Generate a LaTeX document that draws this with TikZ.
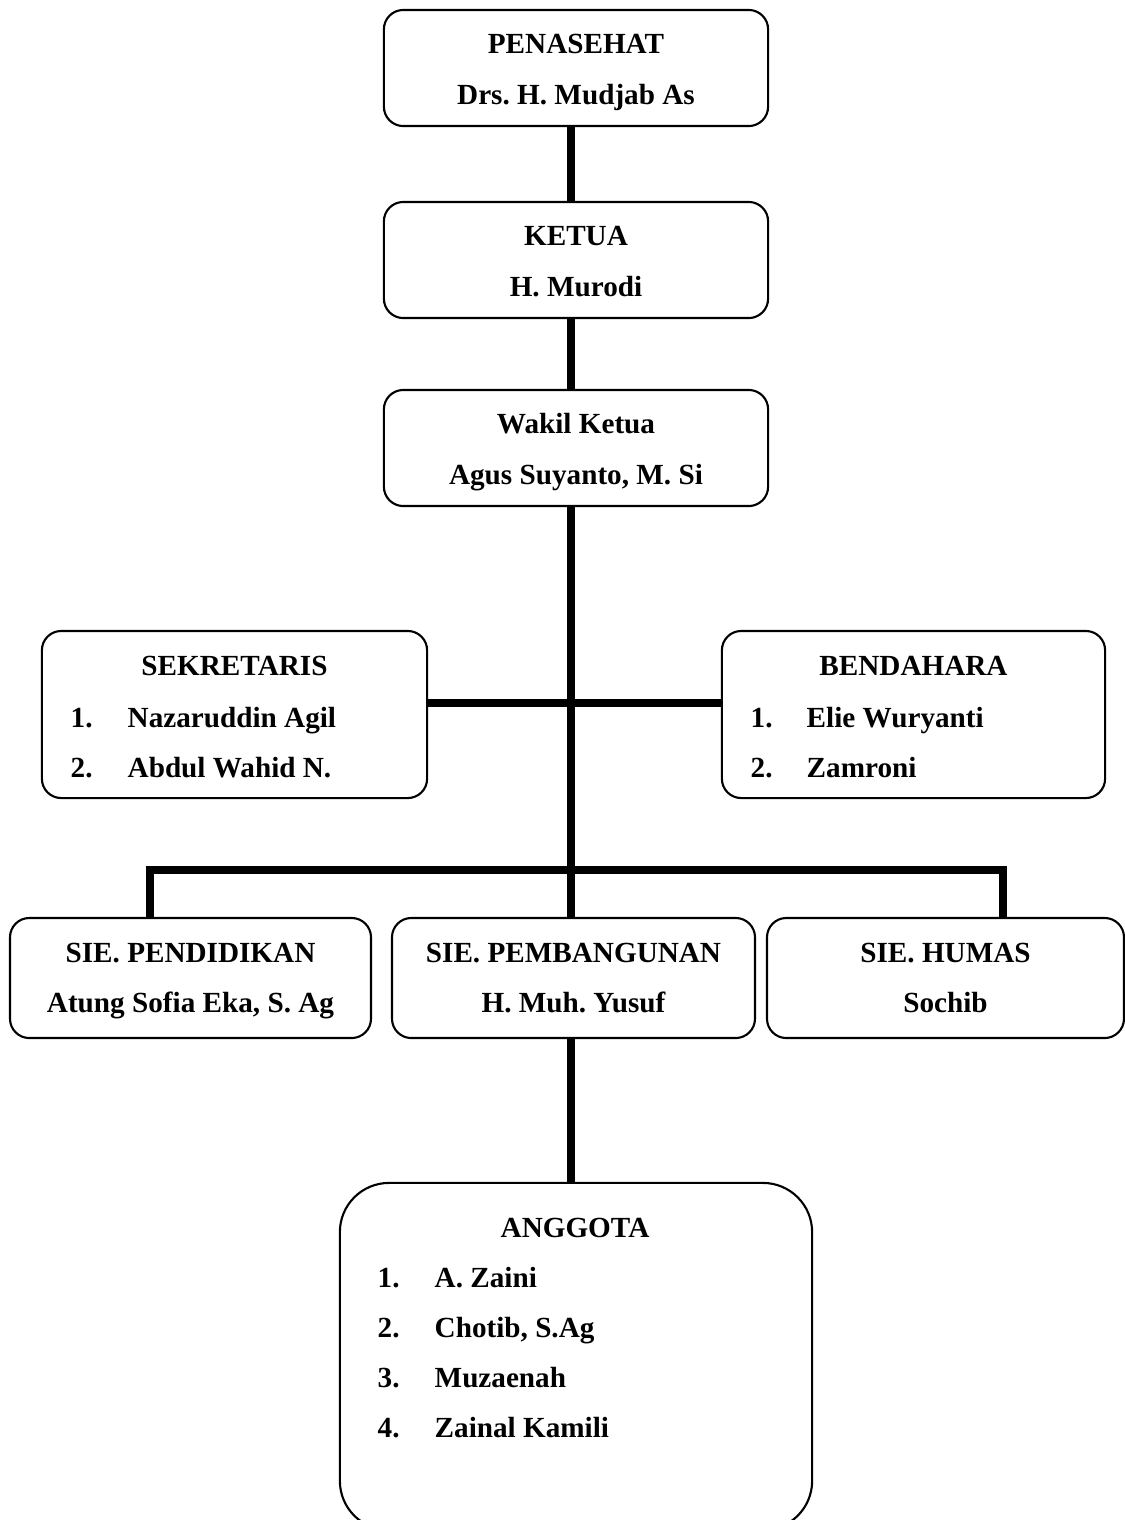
\documentclass[tikz,border=0pt]{standalone}
\usepackage{fontspec}
\setmainfont{Liberation Serif}
\usepackage{tikz}
\usetikzlibrary{positioning}
\frenchspacing
\tikzset{
  kotak/.style={draw,line width=0.6pt,rounded corners=5.5pt,inner sep=0pt,outer sep=0pt},
  garis/.style={line width=2.2pt},
  tulisan/.style={inner sep=0pt,anchor=base,font=\bfseries\fontsize{8.3}{10}\selectfont},
  nomor/.style={tulisan,anchor=base west}
}
\begin{document}
\begin{tikzpicture}[x=0.01cm,y=-0.01cm]
\useasboundingbox (0,0) rectangle (1125,1520);
\foreach \nm/\atas/\judul/\isi in {penasehat/10/PENASEHAT/{Drs. H. Mudjab As},ketua/202/KETUA/{H. Murodi},wakil/390/{Wakil Ketua}/{Agus Suyanto, M. Si}}{
 \node[kotak,minimum width=3.84cm,minimum height=1.16cm] (\nm) at (576,\atas+58) {};
 \node[tulisan] (\nm-judul) at (576,\atas+43) {\judul};
 \node[tulisan] (\nm-isi) at (576,\atas+94) {\isi};}
\node[kotak,minimum width=3.85cm,minimum height=1.67cm] (sekretaris) at (234.5,714.5) {};
\node[tulisan] (sekretaris-judul) at (234.5,675) {SEKRETARIS};
\foreach \nama [count=\k] in {Nazaruddin Agil,Abdul Wahid N.}{
 \node[nomor] (sek-no\k) at (70,677+50*\k) {\k.};
 \node[nomor] (sek-nama\k) at (127,677+50*\k) {\nama};}
\node[kotak,minimum width=3.83cm,minimum height=1.67cm] (bendahara) at (913.5,714.5) {};
\node[tulisan] (bendahara-judul) at (913.5,675) {BENDAHARA};
\foreach \nama [count=\k] in {Elie Wuryanti,Zamroni}{
 \node[nomor] (ben-no\k) at (750,677+50*\k) {\k.};
 \node[nomor] (ben-nama\k) at (806,677+50*\k) {\nama};}
\foreach \nm/\kiri/\lebar/\judul/\isi in {pendidikan/10/361/{SIE. PENDIDIKAN}/{Atung Sofia Eka, S. Ag},pembangunan/392/363/{SIE. PEMBANGUNAN}/{H. Muh. Yusuf},humas/767/357/{SIE. HUMAS}/Sochib}{
 \node[kotak,minimum width=\lebar*0.01cm,minimum height=1.2cm] (\nm) at (\kiri+\lebar/2,978) {};
 \node[tulisan] (\nm-judul) at (\kiri+\lebar/2,962) {\judul};
 \node[tulisan] (\nm-isi) at (\kiri+\lebar/2,1012) {\isi};}
\node[kotak,rounded corners=14pt,minimum width=4.72cm,minimum height=3.47cm] (anggota) at (576,1356.5) {};
\node[tulisan] (anggota-judul) at (575,1237) {ANGGOTA};
\foreach \nama [count=\k] in {A. Zaini,{Chotib, S.Ag},Muzaenah,Zainal Kamili}{
 \node[nomor] (agt-no\k) at (377,1237+50*\k) {\k.};
 \node[nomor] (agt-nama\k) at (434,1237+50*\k) {\nama};}
% garis penghubung
\coordinate (tulang) at (571,703);
\coordinate (kiri) at (150,870);
\coordinate (kanan) at (1003,870);
\draw[garis] (penasehat.south -| tulang) -- (ketua.north -| tulang);
\draw[garis] (ketua.south -| tulang) -- (wakil.north -| tulang);
\draw[garis] (wakil.south -| tulang) -- (pembangunan.north -| tulang);
\draw[garis] (sekretaris.east |- tulang) -- (bendahara.west |- tulang);
\draw[garis] (pendidikan.north -| kiri) -- (kiri) -- (kanan) -- (humas.north -| kanan);
\draw[garis] (pembangunan.south -| tulang) -- (anggota.north -| tulang);
\end{tikzpicture}
\end{document}
